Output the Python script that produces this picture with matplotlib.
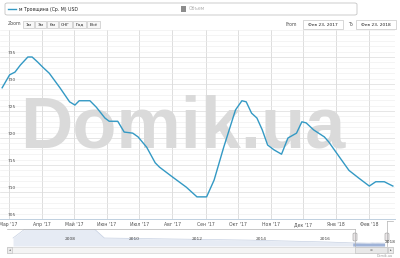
import matplotlib
matplotlib.use('Agg')
import matplotlib.pyplot as plt
from matplotlib.patches import FancyBboxPatch, Rectangle
from matplotlib.lines import Line2D
import pandas as pd

# main series: Feb 23, 2017 .. Feb 23, 2018
dates = ["2017-02-23", "2017-03-02", "2017-03-07", "2017-03-12", "2017-03-19", "2017-03-23",
         "2017-03-28", "2017-04-02", "2017-04-08", "2017-04-18", "2017-04-27", "2017-05-02",
         "2017-05-06", "2017-05-16", "2017-05-22", "2017-05-30", "2017-06-03", "2017-06-11",
         "2017-06-17", "2017-06-25", "2017-06-30", "2017-07-08", "2017-07-16", "2017-07-20",
         "2017-08-01", "2017-08-14", "2017-08-24", "2017-09-02", "2017-09-09", "2017-09-18",
         "2017-09-29", "2017-10-05", "2017-10-09", "2017-10-14", "2017-10-19", "2017-10-24",
         "2017-10-29", "2017-11-04", "2017-11-11", "2017-11-17", "2017-11-25", "2017-11-30",
         "2017-12-04", "2017-12-11", "2017-12-21", "2017-12-25", "2018-01-04", "2018-01-13",
         "2018-01-22", "2018-02-01", "2018-02-07", "2018-02-15", "2018-02-23"]
values = [729.3, 731.7, 732.2, 733.5, 735.0, 735.0, 734.1, 733.1, 732.0, 729.3, 726.7, 726.1,
          726.9, 726.9, 725.7, 723.7, 723.1, 723.1, 721.1, 720.9, 720.2, 718.3, 715.4, 714.6,
          712.8, 710.9, 709.1, 709.1, 712.2, 718.3, 725.2, 726.9, 726.7, 724.6, 723.7, 721.5,
          718.7, 717.8, 717.0, 720.0, 720.9, 723.0, 722.8, 721.5, 720.2, 719.3, 716.5, 714.0,
          712.6, 711.1, 711.9, 711.9, 711.1]

month_labels = ["Мар '17", "Апр '17", "Май '17", "Июн '17", "Июл '17", "Авг '17",
                "Сен '17", "Окт '17", "Ноя '17", "Дек '17", "Янв '18", "Фев '18"]
y_labels = [705, 710, 715, 720, 725, 730, 735]

# navigator history (decimal years)
nav_years = [2006.47, 2006.84, 2009.03, 2009.34, 2013.88, 2016.38]
nav_values = [1180, 2000, 2000, 1180, 990, 810]
nav_year_labels = [2008, 2010, 2012, 2014, 2016, 2018]

zoom_buttons = ["1м", "3м", "6м", "СНГ", "Год", "Всё"]
series_name = "м Троещина (Ср. М) USD"

W, H = 400, 258
LINE = '#3399c4'
TXT = '#505050'


def fx(x):
    return x / W


def fy(y):
    return 1 - y / H


def dec_year(ts):
    return ts.year + (ts.dayofyear - 1) / 365.0


fig = plt.figure(figsize=(4, 2.58), dpi=100)
fig.patch.set_facecolor('white')

# ---- main plot
d = pd.to_datetime(dates)
ax = fig.add_axes([fx(0), fy(219), fx(395), (219 - 30) / H])
ax.set_xlim(pd.Timestamp("2017-02-21"), pd.Timestamp("2018-02-25"))
ax.set_ylim(705, 740)
for s in ['top', 'left', 'right']:
    ax.spines[s].set_visible(False)
ax.spines['bottom'].set_color('#c0d0e0')
ax.spines['bottom'].set_linewidth(0.7)

month_ticks = pd.date_range("2017-03-01", "2018-02-01", freq="MS")
ax.set_xticks(month_ticks)
ax.set_xticklabels(month_labels)
ax.tick_params(axis='x', labelsize=3.3, colors=TXT, length=0, pad=2.0)
ax.set_yticks(y_labels)
ax.set_yticks(range(705, 741), minor=True)
ax.tick_params(axis='y', which='both', left=False, labelleft=False)
ax.grid(axis='x', color='#d8d8d8', lw=0.6, zorder=0)
ax.grid(axis='y', which='major', color='#dcdcdc', lw=0.5, zorder=0)
ax.grid(axis='y', which='minor', color='#ececec', lw=0.4, zorder=0)
ax.set_axisbelow(True)

for v in y_labels:
    ax.text(8 / 395, v + 0.4, str(v), transform=ax.get_yaxis_transform(),
            fontsize=3.2, color=TXT, va='bottom', ha='left')

ax.text(fx(20), fy(148), "Domik.ua", transform=fig.transFigure, family='Liberation Sans',
        fontweight='bold', fontsize=52, color='#dadada', va='baseline', ha='left', zorder=1)
ax.plot(d, values, color=LINE, lw=1.0, zorder=3, solid_joinstyle='round')

# ---- legend box
fig.patches.append(FancyBboxPatch((fx(5), fy(15)), fx(352), 12 / H,
                                  boxstyle="round,pad=0,rounding_size=0.006",
                                  transform=fig.transFigure, fc='white', ec='#c4c4c4', lw=0.6))
fig.lines.append(Line2D([fx(8), fx(16)], [fy(9), fy(9)], transform=fig.transFigure,
                        color=LINE, lw=1.0))
fig.text(fx(19), fy(9), series_name, fontsize=3.3, color='#222222', va='center')
fig.patches.append(Rectangle((fx(181), fy(11.5)), fx(5), 5 / H, transform=fig.transFigure,
                             fc='#8c8c8c', ec='none'))
fig.text(fx(189), fy(9), "Объем", fontsize=3.3, color='#b0b0b0', va='center')

# ---- range selector
fig.text(fx(8), fy(24), "Zoom", fontsize=3.4, color=TXT, va='center')
bx = 23
for lab in zoom_buttons:
    w = 14 if len(lab) == 3 else 12
    fig.patches.append(Rectangle((fx(bx), fy(28)), fx(w - 1), 7 / H, transform=fig.transFigure,
                                 fc='#f7f7f7', ec='#c8c8c8', lw=0.5))
    fig.text(fx(bx + (w - 1) / 2), fy(24.5), lab, fontsize=3.2, color='#222222',
             ha='center', va='center')
    bx += w
fig.text(fx(286), fy(24.5), "From", fontsize=3.3, color=TXT, va='center')
fig.text(fx(348), fy(24.5), "To", fontsize=3.3, color=TXT, va='center')
for x0, lab in [(303, "Фев 23, 2017"), (356, "Фев 23, 2018")]:
    fig.patches.append(Rectangle((fx(x0), fy(28.5)), fx(40), 8 / H, transform=fig.transFigure,
                                 fc='white', ec='#c8c8c8', lw=0.5))
    fig.text(fx(x0 + 20), fy(24.5), lab, fontsize=3.2, color='#222222', ha='center', va='center')

# ---- navigator
nav = fig.add_axes([fx(7), fy(246), fx(386), 17 / H])
nav.set_xlim(2006.28, 2018.41)
nav.set_ylim(445, 2010)
nav.axis('off')
sel_x = [dec_year(t) for t in d]
all_x = nav_years + sel_x
all_v = nav_values + values
nav.fill_between(all_x, all_v, 445, color='#e6ebf4', lw=0)
nav.plot(all_x, all_v, color='#c6d0e2', lw=0.5)
nav.fill_between(sel_x, values, 445, color='#9fb3d8', lw=0)
for yr in nav_year_labels[:-1]:
    nav.text(yr + 0.09, 900, str(yr), fontsize=3.2, color='#444444', ha='left', va='bottom',
             zorder=5)

outline = dict(transform=fig.transFigure, color='#b0b0b0', lw=0.5)
fig.lines.append(Line2D([fx(7), fx(355)], [fy(229), fy(229)], **outline))
fig.lines.append(Line2D([fx(355), fx(355)], [fy(229), fy(246)], **outline))
fig.lines.append(Line2D([fx(387), fx(387)], [fy(221), fy(246)], **outline))
fig.lines.append(Line2D([fx(387), fx(393)], [fy(221), fy(221)], **outline))
for hx in [355, 387]:
    fig.patches.append(FancyBboxPatch((fx(hx - 2), fy(241)), fx(4), 8 / H,
                                      boxstyle="round,pad=0,rounding_size=0.004",
                                      transform=fig.transFigure, fc='#ebe7e8', ec='#999999', lw=0.4))
# last year label sits on top of the right handle
fig.text(fx(385), fy(242), str(nav_year_labels[-1]), fontsize=3.2, color='#444444',
         ha='left', va='center', zorder=6)

# ---- scrollbar
fig.patches.append(Rectangle((fx(7), fy(253)), fx(386), 6 / H, transform=fig.transFigure,
                             fc='#f4f4f4', ec='#cccccc', lw=0.4))
fig.patches.append(Rectangle((fx(355), fy(253)), fx(32), 6 / H, transform=fig.transFigure,
                             fc='#e8e8e8', ec='#bbbbbb', lw=0.4))
fig.text(fx(371), fy(250), "≡", fontsize=2.5, color='#777777', ha='center', va='center')
for x0, arrow in [(7, "◂"), (388, "▸")]:
    fig.patches.append(Rectangle((fx(x0), fy(253)), fx(5), 6 / H, transform=fig.transFigure,
                                 fc='#ebebeb', ec='#bbbbbb', lw=0.4))
    fig.text(fx(x0 + 2.5), fy(250), arrow, fontsize=2.5, color='#555555', ha='center', va='center')
fig.text(fx(393), fy(256), "Domik.ua", fontsize=2.4, color='#999999', ha='right', va='center')

plt.savefig("out.png", dpi=100)
plt.close(fig)
